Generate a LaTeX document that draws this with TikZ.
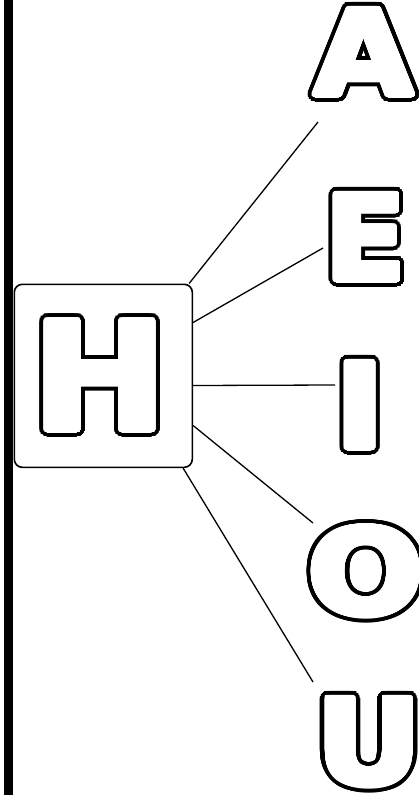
\documentclass[tikz,border=0pt]{standalone}
\usepackage{graphicx}
\usepackage{fontspec}
\setmainfont{DejaVu Sans}
\usepackage{contour}
\contournumber{48}
\newcommand\hollow[2][1]{\scalebox{#1}[1]{\contourlength{7pt}\rlap{\contour{black}{#2}}\contourlength{3pt}\contour{white}{\color{white}#2}}}
\tikzset{
  letter/.style={inner sep=0pt, anchor=base, font=\fontsize{118}{118}\selectfont\bfseries},
  bigletter/.style={letter, font=\fontsize{150}{150}\selectfont\bfseries},
  conn/.style={line width=1.3pt},
  frame/.style={draw, line width=1.6pt, rounded corners=8pt, inner sep=0pt, minimum width=178pt, minimum height=183pt},
  bar/.style={line width=9pt}
}
\begin{document}
\begin{tikzpicture}[x=1pt,y=1pt]
\useasboundingbox (0,0) rectangle (419,-795);
\fill[white] (0,0) rectangle (419,-795);
\coordinate (bartop) at (8.5,0);
\coordinate (barbot) at (8.5,-795);
\draw[bar] (bartop) -- (barbot);
\node[frame, anchor=north west] (hbox) at (13.5,-283.5) {};
\node[bigletter] (H) at (100,-430) {\hollow[1.07]{H}};
\node[letter] (A) at (364,-95) {\hollow[1.08]{A}};
\node[letter] (E) at (366,-280) {\hollow{E}};
\node[letter] (I) at (360,-448) {\hollow[1.1]{I}};
\node[letter] (O) at (366,-614) {\hollow[1.15]{O}};
\node[letter] (U) at (369,-784) {\hollow[1.1]{U}};
\coordinate (a1) at (318,-122);
\coordinate (e1) at (323,-248);
\coordinate (i1) at (335,-385);
\coordinate (o1) at (313,-523);
\coordinate (u1) at (313,-682);
\draw[conn] ([xshift=-4pt]hbox.north east) -- (a1);
\draw[conn] ([yshift=-39pt]hbox.north east) -- (e1);
\draw[conn] ([yshift=-102pt]hbox.north east) -- (i1);
\draw[conn] ([yshift=-142pt]hbox.north east) -- (o1);
\draw[conn] ([xshift=-10pt]hbox.south east) -- (u1);
\end{tikzpicture}
\end{document}
